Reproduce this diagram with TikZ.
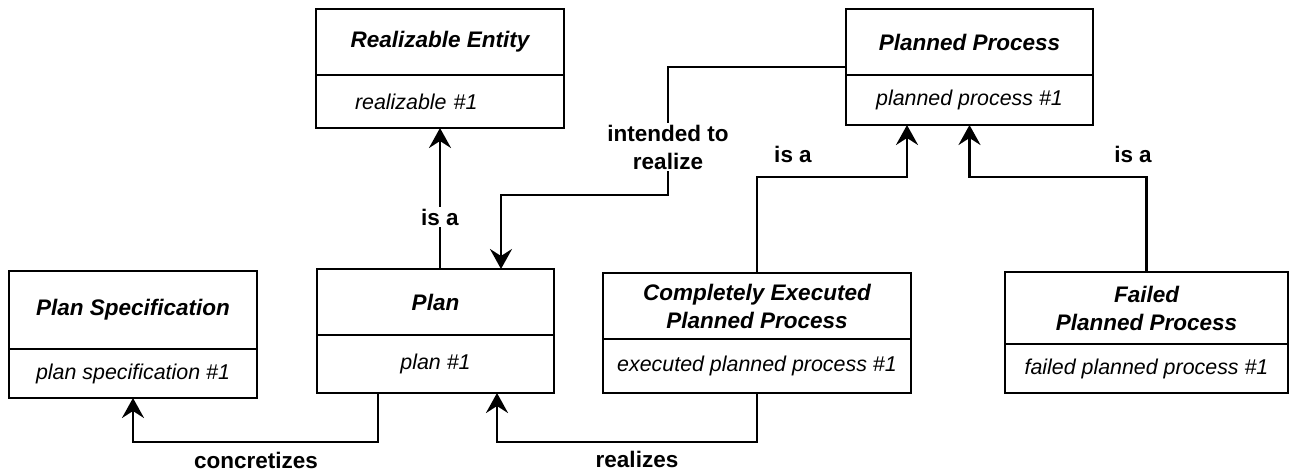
\documentclass[tikz,border=0pt]{standalone}
\usepackage{fontspec}
\setmainfont{Liberation Sans}
\usepackage{tikz}
\usetikzlibrary{positioning, arrows.meta, calc}

\begin{document}
\begin{tikzpicture}[
    x=1pt, y=-1pt,
    titlenode/.style={rectangle, draw=black, line width=1.3pt, outer sep=0pt, inner sep=0pt, align=center, font=\bfseries\itshape\fontsize{22.5}{28}\selectfont},
    attrnode/.style={rectangle, draw=black, line width=1.3pt, outer sep=0pt, inner sep=0pt, align=center, font=\itshape\fontsize{21.4}{27.7}\selectfont},
    relation/.style={line width=2.7pt, -{Stealth[length=20pt, width=22pt, inset=7pt]}},
    edgelabel/.style={fill=white, inner sep=2pt, align=center, font=\bfseries\fontsize{22.5}{28}\selectfont},
]
\useasboundingbox (0,0) rectangle (1290,471);

\node[titlenode, minimum width=248pt, minimum height=66pt, anchor=north west](realT) at (316,9){Realizable Entity};
\node[attrnode, minimum width=248pt, minimum height=53pt, text width=248pt, align=left](realA)[below = 0cm of realT]{\hspace*{39pt}realizable \#1};

\node[titlenode, minimum width=247pt, minimum height=66pt, anchor=north west](ppT) at (846,9){Planned Process};
\node[attrnode, minimum width=247pt, minimum height=50pt](ppA)[below = 0cm of ppT]{planned process \#1};

\node[titlenode, minimum width=248pt, minimum height=78pt, anchor=north west](specT) at (9,271){Plan Specification};
\node[attrnode, minimum width=248pt, minimum height=49pt](specA)[below = 0cm of specT]{plan specification \#1};

\node[titlenode, minimum width=237pt, minimum height=66pt, anchor=north west](planT) at (317,269){Plan};
\node[attrnode, minimum width=237pt, minimum height=58pt](planA)[below = 0cm of planT]{plan \#1};

\node[titlenode, minimum width=308pt, minimum height=66pt, anchor=north west](ceppT) at (603,273){Completely Executed\\Planned Process};
\node[attrnode, minimum width=308pt, minimum height=54pt](ceppA)[below = 0cm of ceppT]{executed planned process \#1};

\node[titlenode, minimum width=283pt, minimum height=72pt, anchor=north west](failT) at (1005,272){Failed\\Planned Process};
\node[attrnode, minimum width=283pt, minimum height=49pt](failA)[below = 0cm of failT]{failed planned process \#1};

\coordinate (ppmid) at ($(ppT.north west)!0.5!(ppA.south west)$);

% is a
\draw[relation] (realA.south |- planT.north) -- (realA.south);
\node[edgelabel](isaReal) at (440,217){is a};

% intended to realize
\draw[relation] (ppmid) -| (668,195) -| ($(planT.north)+(65.5,0)$);
\node[edgelabel](intends) at (668,147){intended to\\realize};

% is a (subclasses of planned process)
\draw[relation] (ceppT.north) -- ++(0,-96) -| ($(ppA.south)+(-62.5,0)$);
\node[edgelabel](isaCepp) at (793,154){is a};
\draw[relation] (failT.north) -- ++(0,-95) -| (ppA.south);
\node[edgelabel](isaFail) at (1133,154){is a};

% concretizes, realizes
\draw[relation] ($(planA.south)+(-57.5,0)$) -- ++(0,49) -| (specA.south);
\node[edgelabel, inner sep=0pt, anchor=base](concr) at (256,468){concretizes};
\draw[relation] (ceppA.south) -- ++(0,49) -| ($(planA.south)+(61.5,0)$);
\node[edgelabel, inner sep=0pt, anchor=base](realz) at (637,467){realizes};
\end{tikzpicture}
\end{document}
